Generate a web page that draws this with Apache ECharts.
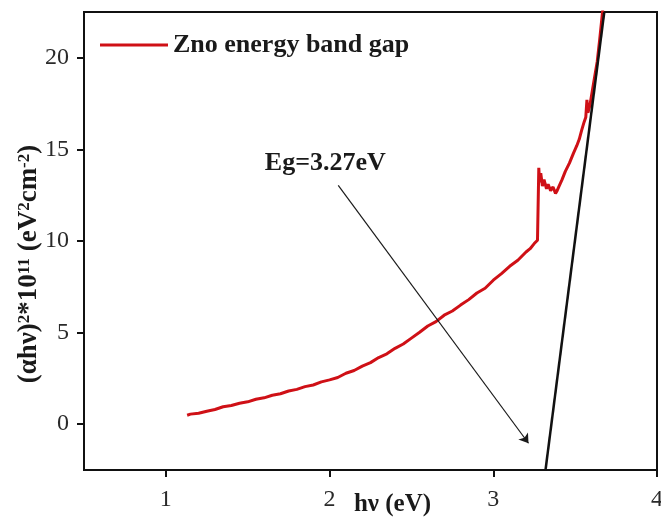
<!DOCTYPE html>
<html>
<head>
<meta charset="utf-8">
<title>ZnO band gap</title>
<script src="https://cdn.jsdelivr.net/npm/echarts@6/dist/echarts.min.js"></script>
<style>
  html, body { margin: 0; padding: 0; background: #fff; }
  #chart { width: 661px; height: 520px; }
</style>
</head>
<body>
<div id="chart"></div>
<script>
// photon energy (eV) and (ahv)^2 values
var curveX = [1.13, 1.15, 1.20, 1.25, 1.30, 1.35, 1.40, 1.45, 1.50, 1.55, 1.60, 1.65, 1.70, 1.75, 1.80,
	1.85, 1.90, 1.95, 2.00, 2.05, 2.10, 2.15, 2.20, 2.25, 2.30, 2.35, 2.40, 2.45, 2.50, 2.55,
	2.60, 2.65, 2.70, 2.75, 2.80, 2.85, 2.90, 2.95, 3.00, 3.05, 3.10, 3.15, 3.20, 3.225, 3.25,
	3.27, 3.275, 3.278, 3.283, 3.29, 3.30, 3.31, 3.325, 3.335, 3.35, 3.365, 3.38, 3.39, 3.40,
	3.42, 3.44, 3.465, 3.49, 3.51, 3.525, 3.54, 3.555, 3.565, 3.572, 3.578, 3.59, 3.605, 3.62,
	3.635, 3.65, 3.665, 3.675];
var curveY = [0.49, 0.55, 0.60, 0.71, 0.80, 0.95, 1.02, 1.14, 1.22, 1.36, 1.44, 1.58, 1.66, 1.81, 1.90,
	2.05, 2.14, 2.31, 2.42, 2.55, 2.78, 2.93, 3.17, 3.36, 3.64, 3.84, 4.14, 4.38, 4.70, 5.02,
	5.36, 5.60, 5.95, 6.18, 6.50, 6.80, 7.16, 7.42, 7.86, 8.22, 8.62, 8.95, 9.40, 9.58, 9.86,
	10.04, 10.10, 14.0, 13.2, 13.7, 13.0, 13.35, 12.85, 13.1, 12.75, 12.95, 12.6, 12.75, 12.95,
	13.35, 13.8, 14.25, 14.8, 15.2, 15.55, 16.05, 16.5, 16.75, 17.7, 17.0, 17.4, 18.2, 19.0,
	19.8, 21.0, 22.3, 23.2];

// linear fit (tangent) end points
var fitX = [3.319, 3.678];
var fitY = [-2.5, 22.5];

// annotation arrow and its text
var arrowX = [2.053, 3.215];
var arrowY = [13.04, -1.04];
var noteXY = [1.974, 14.24];
var noteText = 'Eg=3.27eV';

var xTicks = [1, 2, 3, 4];
var yTicks = [0, 5, 10, 15, 20];

var serif = '"Liberation Serif", "Times New Roman", serif';

var chart = echarts.init(document.getElementById('chart'));

var curveData = curveX.map(function (x, i) { return [x, curveY[i]]; });
var fitData = fitX.map(function (x, i) { return [x, fitY[i]]; });

var option = {
	animation: false,
	backgroundColor: '#fff',
	grid: {
		left: 84, right: 4, top: 12, bottom: 50,
		outerBoundsMode: 'none',
		show: true,
		borderColor: '#111',
		borderWidth: 2
	},
	legend: {
		left: 95,
		top: 27,
		data: ['Zno energy band gap'],
		icon: 'rect',
		itemWidth: 68,
		itemHeight: 3,
		selectedMode: false,
		textStyle: {
			fontFamily: serif,
			fontWeight: 'bold',
			fontSize: 26,
			color: '#1a1a1a'
		}
	},
	xAxis: {
		type: 'value',
		min: 0.5,
		max: 4,
		name: 'hν (eV)',
		nameLocation: 'middle',
		nameGap: 22,
		nameMoveOverlap: false,
		nameTextStyle: {
			fontFamily: serif,
			fontWeight: 'bold',
			fontSize: 25,
			color: '#1a1a1a',
			padding: [0, 0, 0, 44]
		},
		splitLine: { show: false },
		axisLine: { onZero: false, lineStyle: { color: '#111', width: 2 } },
		axisTick: { length: 7, lineStyle: { color: '#111', width: 2 }, customValues: xTicks },
		axisLabel: {
			customValues: xTicks,
			margin: 18,
			fontFamily: serif,
			fontSize: 24,
			color: '#2a2a2a'
		}
	},
	yAxis: {
		type: 'value',
		min: -2.5,
		max: 22.5,
		name: '(αhν){sup|2}*10{sup|11} (eV{sup|2}cm{sup|-2})',
		nameLocation: 'middle',
		nameGap: 41,
		nameMoveOverlap: false,
		nameTextStyle: {
			fontFamily: serif,
			fontWeight: 'bold',
			fontSize: 27,
			color: '#1a1a1a',
			padding: [0, 46, 0, 0],
			rich: {
				sup: {
					fontFamily: serif,
					fontWeight: 'bold',
					fontSize: 17,
					color: '#1a1a1a',
					verticalAlign: 'top'
				}
			}
		},
		splitLine: { show: false },
		axisLine: { onZero: false, lineStyle: { color: '#111', width: 2 } },
		axisTick: { length: 7, lineStyle: { color: '#111', width: 2 }, customValues: yTicks },
		axisLabel: {
			customValues: yTicks,
			margin: 15,
			fontFamily: serif,
			fontSize: 24,
			color: '#2a2a2a'
		}
	},
	series: [{
		name: 'Zno energy band gap',
		type: 'line',
		data: curveData,
		showSymbol: false,
		symbol: 'none',
		color: '#cf1016',
		lineStyle: { color: '#cf1016', width: 3 },
		z: 3
	}, {
		name: 'fit',
		type: 'line',
		data: fitData,
		symbol: 'none',
		color: '#111',
		lineStyle: { color: '#111', width: 2.5 },
		z: 4,
		markLine: {
			silent: true,
			symbol: ['none', 'arrow'],
			symbolSize: 9,
			label: { show: false },
			lineStyle: { color: '#1a1a1a', width: 1.2, type: 'solid' },
			data: [[
				{ coord: [arrowX[0], arrowY[0]] },
				{ coord: [arrowX[1], arrowY[1]] }
			]]
		}
	}, {
		name: 'note',
		type: 'scatter',
		data: [noteXY],
		symbolSize: 1,
		silent: true,
		itemStyle: { opacity: 1, color: 'rgba(0,0,0,0)' },
		label: {
			show: true,
			position: 'inside',
			formatter: noteText,
			fontFamily: serif,
			fontWeight: 'bold',
			fontSize: 26,
			color: '#1a1a1a',
			textBorderWidth: 0
		}
	}]
};

chart.setOption(option);
</script>
</body>
</html>
